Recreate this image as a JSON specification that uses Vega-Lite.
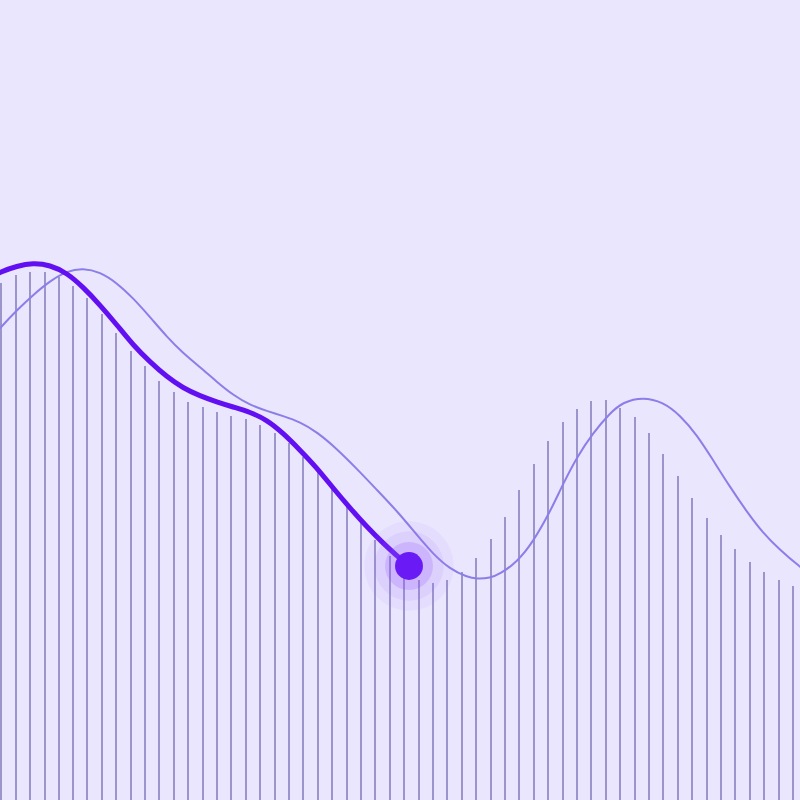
{
  "$schema": "https://vega.github.io/schema/vega-lite/v6.json",
  "width": 800,
  "height": 800,
  "autosize": {"type": "fit", "contains": "padding"},
  "padding": 0,
  "background": "#EAE6FD",
  "config": {"view": {"stroke": null}},
  "datasets": {
    "bars": [
      {"x": 1, "top": 517}, {"x": 16, "top": 525}, {"x": 30, "top": 528}, {"x": 45, "top": 528},
      {"x": 59, "top": 523}, {"x": 73, "top": 514}, {"x": 87, "top": 502}, {"x": 102, "top": 486},
      {"x": 116, "top": 467}, {"x": 131, "top": 449}, {"x": 145, "top": 434}, {"x": 159, "top": 419},
      {"x": 174, "top": 408}, {"x": 188, "top": 398}, {"x": 203, "top": 393}, {"x": 217, "top": 388},
      {"x": 231, "top": 384}, {"x": 246, "top": 381}, {"x": 260, "top": 375}, {"x": 275, "top": 367},
      {"x": 289, "top": 357}, {"x": 303, "top": 343}, {"x": 318, "top": 329}, {"x": 332, "top": 313},
      {"x": 347, "top": 295}, {"x": 361, "top": 278}, {"x": 375, "top": 260}, {"x": 390, "top": 244},
      {"x": 404, "top": 230}, {"x": 419, "top": 220}, {"x": 433, "top": 217}, {"x": 447, "top": 220},
      {"x": 462, "top": 228}, {"x": 476, "top": 242}, {"x": 491, "top": 261}, {"x": 505, "top": 283},
      {"x": 519, "top": 310}, {"x": 534, "top": 336}, {"x": 548, "top": 359}, {"x": 563, "top": 378},
      {"x": 577, "top": 391}, {"x": 591, "top": 399}, {"x": 606, "top": 400}, {"x": 620, "top": 392},
      {"x": 635, "top": 383}, {"x": 649, "top": 367}, {"x": 663, "top": 346}, {"x": 678, "top": 324},
      {"x": 692, "top": 302}, {"x": 707, "top": 282}, {"x": 721, "top": 265}, {"x": 735, "top": 251},
      {"x": 750, "top": 238}, {"x": 764, "top": 228}, {"x": 779, "top": 220}, {"x": 793, "top": 214}
    ],
    "forecast": [
      {"x": -10, "v": 460}, {"x": 0, "v": 472}, {"x": 17, "v": 490}, {"x": 33, "v": 505}, {"x": 50, "v": 519},
      {"x": 67, "v": 529}, {"x": 83, "v": 532}, {"x": 100, "v": 528}, {"x": 117, "v": 517},
      {"x": 133, "v": 502}, {"x": 150, "v": 483}, {"x": 167, "v": 463}, {"x": 183, "v": 447},
      {"x": 200, "v": 433}, {"x": 217, "v": 418}, {"x": 233, "v": 405}, {"x": 250, "v": 395},
      {"x": 267, "v": 389}, {"x": 283, "v": 384}, {"x": 300, "v": 378}, {"x": 317, "v": 368},
      {"x": 337, "v": 351}, {"x": 357, "v": 331}, {"x": 377, "v": 310}, {"x": 397, "v": 289},
      {"x": 417, "v": 265}, {"x": 433, "v": 246}, {"x": 450, "v": 231}, {"x": 467, "v": 223},
      {"x": 477, "v": 221}, {"x": 490, "v": 222}, {"x": 500, "v": 226}, {"x": 517, "v": 238},
      {"x": 533, "v": 258}, {"x": 550, "v": 288}, {"x": 563, "v": 316}, {"x": 577, "v": 343},
      {"x": 593, "v": 367}, {"x": 610, "v": 387}, {"x": 623, "v": 398}, {"x": 643, "v": 403},
      {"x": 663, "v": 398}, {"x": 680, "v": 385}, {"x": 697, "v": 365}, {"x": 713, "v": 340},
      {"x": 730, "v": 313}, {"x": 747, "v": 288}, {"x": 763, "v": 267}, {"x": 780, "v": 250},
      {"x": 800, "v": 233}, {"x": 810, "v": 226}
    ],
    "actual": [
      {"x": -10, "v": 522}, {"x": 0, "v": 528}, {"x": 17, "v": 534}, {"x": 33, "v": 537}, {"x": 50, "v": 535},
      {"x": 67, "v": 527}, {"x": 83, "v": 513}, {"x": 100, "v": 495}, {"x": 117, "v": 475},
      {"x": 133, "v": 455}, {"x": 150, "v": 438}, {"x": 167, "v": 423}, {"x": 183, "v": 412},
      {"x": 200, "v": 404}, {"x": 217, "v": 398}, {"x": 233, "v": 393}, {"x": 250, "v": 388},
      {"x": 267, "v": 380}, {"x": 283, "v": 367}, {"x": 300, "v": 350}, {"x": 317, "v": 332},
      {"x": 333, "v": 312}, {"x": 350, "v": 292}, {"x": 367, "v": 273}, {"x": 383, "v": 257},
      {"x": 396, "v": 245}, {"x": 409, "v": 234}, {"x": 412, "v": 232}
    ],
    "marker": [{"x": 409, "v": 234}]
  },
  "encoding": {
    "x": {"field": "x", "type": "quantitative", "scale": {"domain": [0, 800], "nice": false, "zero": false}, "axis": null},
    "y": {"field": "v", "type": "quantitative", "scale": {"domain": [0, 800], "nice": false}, "axis": null}
  },
  "layer": [
    {
      "data": {"name": "bars"},
      "mark": {"type": "rule", "color": "#9B95CB", "strokeWidth": 2, "clip": true},
      "encoding": {
        "y": {"field": "top", "type": "quantitative"},
        "y2": {"datum": 0}
      }
    },
    {
      "data": {"name": "forecast"},
      "mark": {"type": "line", "color": "#8C7EE8", "strokeWidth": 2, "interpolate": "basis", "clip": true}
    },
    {
      "data": {"name": "actual"},
      "mark": {"type": "line", "color": "#6210F2", "strokeWidth": 5, "interpolate": "basis", "clip": true}
    },
    {
      "data": {"name": "marker"},
      "mark": {"type": "circle", "color": "#A070FF", "opacity": 0.07, "size": 8000, "clip": true}
    },
    {
      "data": {"name": "marker"},
      "mark": {"type": "circle", "color": "#9A60FF", "opacity": 0.1, "size": 4800, "clip": true}
    },
    {
      "data": {"name": "marker"},
      "mark": {"type": "circle", "color": "#8C4BFF", "opacity": 0.2, "size": 2300, "clip": true}
    },
    {
      "data": {"name": "marker"},
      "mark": {"type": "circle", "color": "#6A1BF5", "opacity": 1, "size": 780, "clip": true}
    }
  ]
}
